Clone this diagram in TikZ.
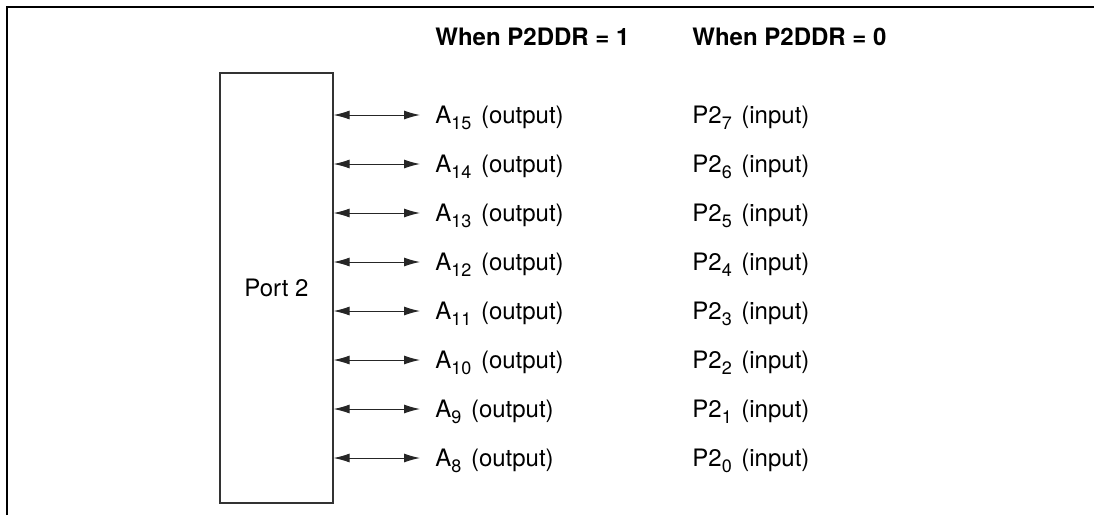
\documentclass[tikz,border=0pt]{standalone}
\usepackage{fontspec}
\setmainfont{TeX Gyre Heros}
\usetikzlibrary{arrows.meta}
\colorlet{framecolor}{black}
\colorlet{boxcolor}{black!80}
\colorlet{pincolor}{black!85}
\newcommand{\pinsub}[1]{\raisebox{-3pt}{\fontsize{9}{10}\selectfont #1}\hspace{4.8pt}}
\tikzset{
    frameline/.style={draw=framecolor, line width=1pt},
    portbox/.style={draw=boxcolor, line width=0.6pt, minimum width=56.5pt, minimum height=215pt, inner sep=0pt, font=\fontsize{12}{14}\selectfont},
    biarrow/.style={draw=pincolor, line width=0.5pt, {Latex[length=8pt,width=4.5pt]}-{Latex[length=8pt,width=4.5pt]}},
    pinlabel/.style={anchor=base west, inner sep=0pt, font=\fontsize{12}{14}\selectfont},
    headlabel/.style={anchor=base west, inner sep=0pt, font=\fontsize{12}{14}\selectfont\bfseries}
}

\begin{document}
\begin{tikzpicture}[x=0.5pt, y=-0.5pt]
    \useasboundingbox (0,0) rectangle (1094,515);
    % --- Outer frame (top and left edges) ---
    \draw[frameline] (7,515) -- (7,7) -- (1094,7);
    % --- Column headings ---
    \node[headlabel] (headone) at (435,45) {When P2DDR = 1};
    \node[headlabel] (headzero) at (692,45) {When P2DDR = 0};
    % --- Port block ---
    \node[portbox] (port) at (276.5,288) {Port 2};
    % --- Pins: address outputs and port inputs ---
    \foreach \i/\addr/\bit in {0/15/7, 1/14/6, 2/13/5, 3/12/4, 4/11/3, 5/10/2, 6/9/1, 7/8/0} {
            \pgfmathsetmacro{\py}{115+49*\i}
            \coordinate (tip\i) at (420,\py);
            \node[pinlabel] (addr\i) at (435,\py+8) {A\pinsub{\addr}(output)};
            \node[pinlabel] (bit\i) at (692,\py+8) {P2\pinsub{\bit}(input)};
            \draw[biarrow] (port.east |- tip\i) -- (tip\i);
        }
\end{tikzpicture}
\end{document}
